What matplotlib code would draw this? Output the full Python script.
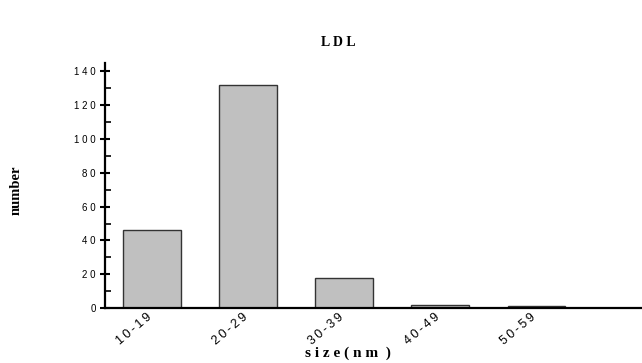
import matplotlib
matplotlib.use("Agg")
import matplotlib.pyplot as plt
import matplotlib.transforms as mtransforms
import numpy as np

categories = ["10-19", "20-29", "30-39", "40-49", "50-59"]
counts = [46, 132, 18, 2, 1]
yticks = [0, 20, 40, 60, 80, 100, 120, 140]

fig = plt.figure(figsize=(6.42, 3.63), dpi=100)
ax = fig.add_axes([105/642, 1-308/363, (642-105)/642, (308-63)/363])
x = np.arange(len(categories))
ax.bar(x, counts, width=0.6, color="#c0c0c0", edgecolor="#333333", linewidth=1.0)
ax.set_xlim(-0.49, 5.1)
ax.set_ylim(0, 145)
ax.set_yticks(yticks)
ax.set_yticklabels([" ".join(str(v)) for v in yticks], fontsize=7, family="Liberation Sans")
ax.set_yticks(np.arange(10, 145, 20), minor=True)
ax.tick_params(axis="y", which="major", direction="inout", length=7, width=1.5, pad=3)
ax.tick_params(axis="y", which="minor", direction="in", length=4, width=1.2)
ax.set_xticks(x)
ax.set_xticklabels(["\u2009".join(c) for c in categories], rotation=40, ha="right", va="top",
                   rotation_mode="anchor", fontsize=9, family="Liberation Sans")
ax.tick_params(axis="x", length=0, pad=2)
offset = mtransforms.ScaledTranslation(-6/100, 0, fig.dpi_scale_trans)
for lab in ax.get_xticklabels():
    lab.set_transform(lab.get_transform() + offset)
for s in ["top", "right"]:
    ax.spines[s].set_visible(False)
ax.spines["left"].set_linewidth(1.6)
ax.spines["bottom"].set_linewidth(1.6)

fig.text(338/642, 1-42/363, "L D L", ha="center", va="center", fontsize=10,
         fontweight="bold", family="Liberation Serif")
fig.text(16/642, 1-190/363, "number", ha="center", va="center", fontsize=10.5,
         fontweight="bold", family="Liberation Serif", rotation=90)
fig.text(348/642, 1-353/363, "s i z e ( n m  )", ha="center", va="center", fontsize=11,
         fontweight="bold", family="Liberation Serif")

fig.savefig("out.png", dpi=100)
